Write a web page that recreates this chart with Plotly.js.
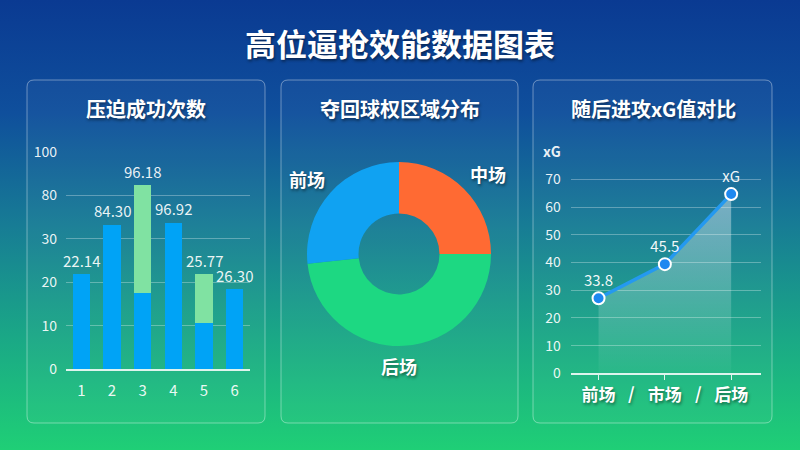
<!DOCTYPE html>
<html>
<head>
<meta charset="utf-8">
<script src="https://cdn.plot.ly/plotly-3.0.1.min.js"></script>
<style>
html,body{margin:0;padding:0;width:800px;height:450px;overflow:hidden;}
body{background:linear-gradient(180deg,#0a3a92 0%,#0f4f9c 25%,#177c95 50%,#1aa886 75%,#1fcf76 100%);}
#chart{width:800px;height:450px;}
</style>
</head>
<body>
<div id="chart"></div>
<script>
// ---------- data ----------
const mainTitle = '高位逼抢效能数据图表';
const panelTitles = ['压迫成功次数', '夺回球权区域分布', '随后进攻xG值对比'];

const barCats = ['1', '2', '3', '4', '5', '6'];
const barBase = [21.8, 33.2, 17.5, 33.7, 10.6, 18.4];
const barTop = [0, 0, 24.8, 0, 11.2, 0];
const barLabels = ['22.14', '84.30', '96.18', '96.92', '25.77', '26.30'];
const barTickVals = [0, 10, 20, 30, 40, 50];
const barTickText = ['0', '10', '20', '30', '80', '100'];

const zoneLabels = ['中场', '后场', '前场'];
const zoneValues = [25, 48.3, 26.7];
const zoneColors = ['#ff6a33', '#1dd882', '#10a2f2'];

const xgCats = ['前场', '市场', '后场'];
const xgValues = [27.1, 39.4, 64.7];
const xgLabels = ['33.8', '45.5', 'xG'];
const xgTickVals = [0, 10, 20, 30, 40, 50, 60, 70, 80];
const xgTickText = ['0', '10', '20', '30', '40', '50', '60', '70', '<b>xG</b>'];
const xgSeparator = '/';

// ---------- helpers ----------
const W = 800, H = 450;
const px = x => x / W;
const py = y => 1 - y / H;
const FONT = '"Noto Sans CJK SC", "Noto Sans", sans-serif';
const shadow = '1px 2px 3px rgba(0,0,0,0.45)';

function roundRect(x0, y0, x1, y1, r) {
  const rx = r / W, ry = r / H;
  const X0 = px(x0), X1 = px(x1), Y0 = py(y0), Y1 = py(y1);
  return `M${X0 + rx},${Y0} L${X1 - rx},${Y0} Q${X1},${Y0} ${X1},${Y0 - ry} ` +
         `L${X1},${Y1 + ry} Q${X1},${Y1} ${X1 - rx},${Y1} L${X0 + rx},${Y1} ` +
         `Q${X0},${Y1} ${X0},${Y1 + ry} L${X0},${Y0 - ry} Q${X0},${Y0} ${X0 + rx},${Y0} Z`;
}

const panels = [[27, 80, 265, 423], [281, 80, 518, 423], [533, 80, 772, 423]];
const shapes = panels.map(p => ({
  type: 'path', xref: 'paper', yref: 'paper', layer: 'below',
  path: roundRect(p[0], p[1], p[2], p[3], 7),
  line: {color: 'rgba(255,255,255,0.38)', width: 1},
  fillcolor: 'rgba(255,255,255,0.03)'
}));

// ---------- traces ----------
const traces = [
  {
    type: 'bar', x: barCats, y: barBase, xaxis: 'x', yaxis: 'y',
    marker: {color: '#00a3f6'}, hoverinfo: 'skip'
  },
  {
    type: 'bar', x: barCats, y: barTop, xaxis: 'x', yaxis: 'y',
    marker: {color: '#80e2a2'}, hoverinfo: 'skip'
  },
  {
    type: 'pie', labels: zoneLabels, values: zoneValues, hole: 0.44,
    sort: false, direction: 'clockwise', rotation: 0,
    marker: {colors: zoneColors, line: {width: 0}},
    textinfo: 'none', hoverinfo: 'skip',
    domain: {x: [px(399 - 92), px(399 + 92)], y: [py(254 + 92), py(254 - 92)]}
  },
  {
    type: 'scatter', mode: 'lines+markers+text', x: xgCats, y: xgValues,
    xaxis: 'x2', yaxis: 'y2',
    line: {color: '#2499f0', width: 3.5},
    marker: {size: 12, color: '#1e88f0', line: {color: '#ffffff', width: 2}},
    fill: 'tozeroy',
    fillgradient: {type: 'vertical', colorscale: [[0, 'rgba(255,255,255,0.03)'], [1, 'rgba(255,255,255,0.42)']]},
    text: xgLabels, textposition: 'top center',
    textfont: {family: FONT, size: 15, color: 'rgba(255,255,255,0.95)'},
    hoverinfo: 'skip', cliponaxis: false
  }
];

// ---------- annotations ----------
const annotations = [];
function paperText(x, y, text, size, extra) {
  return Object.assign({
    xref: 'paper', yref: 'paper', x: px(x), y: py(y), xanchor: 'center', yanchor: 'middle',
    showarrow: false, text: text,
    font: {family: FONT, size: size, color: '#ffffff', shadow: shadow}
  }, extra || {});
}
annotations.push(paperText(400, 42, '<b>' + mainTitle + '</b>', 31));
[146, 400, 653].forEach((cx, i) => annotations.push(paperText(cx, 108, '<b>' + panelTitles[i] + '</b>', 20)));
// on a category axis, annotation x is the category's serial index
barCats.forEach((c, i) => annotations.push({
  xref: 'x', yref: 'y', x: i, y: barBase[i] + barTop[i], yshift: 14,
  xanchor: 'center', yanchor: 'middle',
  showarrow: false, text: barLabels[i],
  font: {family: FONT, size: 15, color: 'rgba(255,255,255,0.92)'}
}));
const zonePos = [[488, 174], [399, 366], [307, 179]];
zoneLabels.forEach((l, i) => annotations.push(paperText(zonePos[i][0], zonePos[i][1], '<b>' + l + '</b>', 18)));
[0.5, 1.5].forEach(v => annotations.push({
  xref: 'x2', yref: 'paper', x: v, y: py(392), xanchor: 'center', yanchor: 'middle', showarrow: false,
  text: '<b>' + xgSeparator + '</b>',
  font: {family: FONT, size: 17, color: '#ffffff', shadow: shadow}
}));

// ---------- layout ----------
const tickFont = {family: FONT, size: 14, color: 'rgba(255,255,255,0.92)'};
const layout = {
  width: W, height: H,
  margin: {l: 0, r: 0, t: 0, b: 0},
  paper_bgcolor: 'rgba(0,0,0,0)', plot_bgcolor: 'rgba(0,0,0,0)',
  showlegend: false, barmode: 'stack', bargap: 0.44,
  font: {family: FONT, color: '#ffffff'},
  xaxis: {
    domain: [px(66), px(250)], anchor: 'y', type: 'category', range: [-0.5, 5.5],
    showgrid: false, showline: true, linecolor: 'rgba(255,255,255,0.85)', linewidth: 1.5,
    ticks: '', tickfont: {family: FONT, size: 15, color: 'rgba(255,255,255,0.92)'},
    ticklabelstandoff: 7, fixedrange: true
  },
  yaxis: {
    domain: [py(369.3), py(151.7)], anchor: 'x', range: [0, 50],
    tickvals: barTickVals, ticktext: barTickText, tickfont: tickFont,
    showgrid: true, gridcolor: 'rgba(255,255,255,0.3)', gridwidth: 1,
    zeroline: false, showline: false, ticks: '', ticklabelstandoff: 8, fixedrange: true
  },
  xaxis2: {
    domain: [px(570.7), px(761)], anchor: 'y2', type: 'category', range: [-0.42, 2.45],
    showgrid: false, showline: true, linecolor: 'rgba(255,255,255,0.85)', linewidth: 1.5,
    ticks: 'outside', ticklen: 5, tickcolor: 'rgba(255,255,255,0.85)',
    tickfont: {family: FONT, size: 17, color: '#ffffff', weight: 'bold', shadow: shadow},
    ticklabelstandoff: 1, fixedrange: true
  },
  yaxis2: {
    domain: [py(373.3), py(151.7)], anchor: 'x2', range: [0, 80],
    tickvals: xgTickVals, ticktext: xgTickText, tickfont: tickFont,
    showgrid: true, gridcolor: 'rgba(255,255,255,0.3)', gridwidth: 1,
    zeroline: false, showline: false, ticks: '', ticklabelstandoff: 9, fixedrange: true
  },
  shapes: shapes,
  annotations: annotations
};

Plotly.newPlot('chart', traces, layout, {staticPlot: true, displayModeBar: false});
</script>
</body>
</html>
